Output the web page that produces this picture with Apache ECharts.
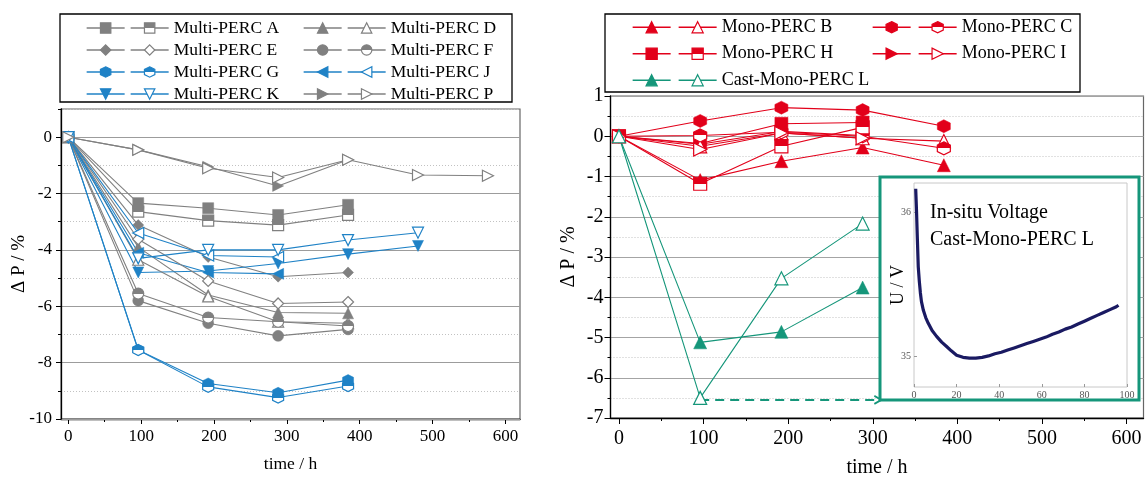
<!DOCTYPE html>
<html><head><meta charset="utf-8">
<script src="https://cdn.jsdelivr.net/npm/echarts@6/dist/echarts.min.js"></script>
<style>html,body{margin:0;padding:0;background:#fff}#c{width:1145px;height:480px}</style>
</head><body><div id="c"></div>
<script>
// ---------- data ----------
const times = [0, 96, 192, 288, 384, 480, 576];
const xTickValues = [0, 100, 200, 300, 400, 500, 600];
const xMinorValues = [50, 150, 250, 350, 450, 550];
const leftYMajor = [-10, -8, -6, -4, -2, 0];

// Multi-PERC (left panel): filled (_f) and open (_o) modules
const multiA_f = [0, -2.34, -2.52, -2.76, -2.40];
const multiA_o = [0, -2.64, -2.96, -3.12, -2.76];
const multiD_f = [0, -3.9, -5.6, -6.22, -6.25];
const multiD_o = [0, -4.35, -5.65, -6.55, -6.6];
const multiE_f = [0, -3.12, -4.25, -4.95, -4.8];
const multiE_o = [0, -3.62, -5.1, -5.9, -5.85];
const multiF_f = [0, -5.8, -6.6, -7.05, -6.82];
const multiF_o = [0, -5.55, -6.4, -6.55, -6.7];
const multiG_f = [0, -7.55, -8.74, -9.07, -8.62];
const multiG_o = [0, -7.55, -8.86, -9.24, -8.83];
const multiJ_f = [0, -4.1, -4.8, -4.85];
const multiJ_o = [0, -3.4, -4.2, -4.25];
const multiK_f = [0, -4.8, -4.75, -4.48, -4.15, -3.86];
const multiK_o = [0, -4.3, -4.0, -4.0, -3.65, -3.39];
const multiP_f = [0, -0.45, -1.05, -1.73, -0.8];
const multiP_o = [0, -0.45, -1.1, -1.43, -0.8, -1.34, -1.37];

// Mono-PERC (right panel)
const monoB_f = [0, -1.09, -0.62, -0.28, -0.72];
const monoB_o = [0, -0.25, 0.08, -0.05, -0.12];
const monoC_f = [0, 0.38, 0.71, 0.65, 0.25];
const monoC_o = [0, 0.02, 0.1, 0.0, -0.3];
const monoH_f = [0, -0.18, 0.31, 0.34];
const monoH_o = [0, -1.18, -0.25, 0.22];
const monoI_f = [0, -0.2, 0.12, 0.02];
const monoI_o = [0, -0.33, 0.08, -0.05];
const castL_f = [0, -5.12, -4.86, -3.76];
const castL_o = [0, -6.5, -3.53, -2.17];

// dashed arrow to inset
const arrowT = [96, 306];
const arrowV = [-6.55, -6.55];

// inset: in-situ voltage
const insetTime = [0.8, 1.0, 1.2, 1.5, 2.0, 2.5, 3.0, 3.5, 4.4, 5.5, 6.7, 8.5, 10.6, 13, 15.3, 17.5, 20, 23, 26, 29, 32, 35, 38, 41, 44, 47, 50, 53, 56, 59, 62, 65, 68, 71, 74, 77, 80, 83, 86, 89, 92, 95, 96];
const insetU = [36.16, 36.08, 36.0, 35.85, 35.62, 35.52, 35.44, 35.38, 35.32, 35.27, 35.23, 35.18, 35.14, 35.10, 35.07, 35.04, 35.01, 34.995, 34.99, 34.99, 34.995, 35.005, 35.02, 35.03, 35.045, 35.06, 35.075, 35.09, 35.105, 35.12, 35.135, 35.155, 35.17, 35.19, 35.205, 35.225, 35.245, 35.265, 35.285, 35.305, 35.325, 35.345, 35.355];
const insetXTicks = [0, 20, 40, 60, 80, 100];
const insetYTicks = [35, 36];

// ---------- style ----------
const FONT = 'Liberation Serif';
const GRAY = '#808080', BLUE = '#1f82c6', RED = '#e2001a', GREEN = '#15967a', NAVY = '#1a1a62';
const SYM = {
  rect: 'rect', circle: 'circle', diamond: 'diamond', tri: 'triangle',
  hex: 'path://M5,0 L9.33,2.5 L9.33,7.5 L5,10 L0.67,7.5 L0.67,2.5 Z',
  left: 'path://M0,5 L10,0 L10,10 Z',
  down: 'path://M0,0 L10,0 L5,10 Z',
  right: 'path://M0,0 L10,5 L0,10 Z'
};
const HALF = ['rect', 'circle', 'hex'];
function half(c) {
  return {type: 'linear', x: 0, y: 0, x2: 0, y2: 1, colorStops: [
    {offset: 0, color: c}, {offset: 0.5, color: c}, {offset: 0.5, color: '#fff'}, {offset: 1, color: '#fff'}]};
}
function mk(name, vals, shape, color, open, xi, yi, size) {
  const fill = open ? (HALF.includes(shape) ? half(color) : '#fff') : color;
  return {
    name: open ? name + '|o' : name, type: 'line', xAxisIndex: xi, yAxisIndex: yi,
    data: vals.map((v, i) => [times[i], v]),
    symbol: SYM[shape], symbolSize: size, showAllSymbol: true,
    lineStyle: {color: color, width: 1.1},
    itemStyle: {color: fill, borderColor: color, borderWidth: open ? 1.2 : 0.5},
    emphasis: {disabled: true}, z: open ? 4 : 3
  };
}
const L = (n, v, s, c, o) => mk(n, v, s, c, o, 0, 0, 11);
const R = (n, v, s, c, o) => mk(n, v, s, c, o, 2, 2, 13);

const series = [
  L('Multi-PERC A', multiA_f, 'rect', GRAY, false), L('Multi-PERC A', multiA_o, 'rect', GRAY, true),
  L('Multi-PERC D', multiD_f, 'tri', GRAY, false), L('Multi-PERC D', multiD_o, 'tri', GRAY, true),
  L('Multi-PERC E', multiE_f, 'diamond', GRAY, false), L('Multi-PERC E', multiE_o, 'diamond', GRAY, true),
  L('Multi-PERC F', multiF_f, 'circle', GRAY, false), L('Multi-PERC F', multiF_o, 'circle', GRAY, true),
  L('Multi-PERC G', multiG_f, 'hex', BLUE, false), L('Multi-PERC G', multiG_o, 'hex', BLUE, true),
  L('Multi-PERC J', multiJ_f, 'left', BLUE, false), L('Multi-PERC J', multiJ_o, 'left', BLUE, true),
  L('Multi-PERC K', multiK_f, 'down', BLUE, false), L('Multi-PERC K', multiK_o, 'down', BLUE, true),
  L('Multi-PERC P', multiP_f, 'right', GRAY, false), L('Multi-PERC P', multiP_o, 'right', GRAY, true),
  R('Mono-PERC B', monoB_f, 'tri', RED, false), R('Mono-PERC B', monoB_o, 'tri', RED, true),
  R('Mono-PERC C', monoC_f, 'hex', RED, false), R('Mono-PERC C', monoC_o, 'hex', RED, true),
  R('Mono-PERC H', monoH_f, 'rect', RED, false), R('Mono-PERC H', monoH_o, 'rect', RED, true),
  R('Mono-PERC I', monoI_f, 'right', RED, false), R('Mono-PERC I', monoI_o, 'right', RED, true),
  R('Cast-Mono-PERC L', castL_f, 'tri', GREEN, false), R('Cast-Mono-PERC L', castL_o, 'tri', GREEN, true),
  {
    name: 'arrow', type: 'line', xAxisIndex: 2, yAxisIndex: 2, z: 3,
    data: arrowT.map((t, i) => i === arrowT.length - 1
      ? {value: [t, arrowV[i]], symbol: 'path://M0,0 L10,5 L0,10', symbolSize: [7, 8], itemStyle: {color: 'rgba(0,0,0,0)', borderColor: GREEN, borderWidth: 1.8}}
      : {value: [t, arrowV[i]], symbol: 'none'}),
    lineStyle: {color: GREEN, width: 2, type: [9, 6]}, emphasis: {disabled: true}
  },
  {
    name: 'inset', type: 'line', xAxisIndex: 4, yAxisIndex: 3, z: 56, showSymbol: false,
    data: insetTime.map((t, i) => [t, insetU[i]]),
    lineStyle: {color: NAVY, width: 3.2}, emphasis: {disabled: true}
  }
];

const txt = (size) => ({fontFamily: FONT, fontSize: size, color: '#000'});
function legend(left, top, names, open, lh, ih, fs) {
  return {
    left: left, top: top, orient: 'vertical', padding: 0, itemGap: 0,
    itemWidth: 38, itemHeight: ih, selectedMode: false,
    data: names.map(n => open ? n + '|o' : n),
    formatter: open ? (n => n.replace('|o', '')) : (() => '\u00a0'),
    textStyle: Object.assign(txt(fs), {lineHeight: lh}),
    itemStyle: {borderWidth: 1.2}, lineStyle: {width: 1.3}
  };
}
const lc1 = ['Multi-PERC A', 'Multi-PERC E', 'Multi-PERC G', 'Multi-PERC K'];
const lc2 = ['Multi-PERC D', 'Multi-PERC F', 'Multi-PERC J', 'Multi-PERC P'];
const rc1 = ['Mono-PERC B', 'Mono-PERC H', 'Cast-Mono-PERC L'];
const rc2 = ['Mono-PERC C', 'Mono-PERC I'];

const axLine = {show: true, onZero: false, lineStyle: {color: '#000', width: 1.3}};
const tick = (len, extra) => Object.assign({show: true, length: len, lineStyle: {color: '#000', width: 1}}, extra || {});

const option = {
  animation: false,
  backgroundColor: '#fff',
  grid: [
    {left: 61, top: 109, width: 459, height: 310, show: true, borderColor: '#666', borderWidth: 1.2, backgroundColor: 'rgba(0,0,0,0)', outerBoundsMode: 'none', containLabel: false},
    {left: 610.5, top: 96, width: 533, height: 322, show: true, borderColor: '#666', borderWidth: 1.2, backgroundColor: 'rgba(0,0,0,0)', outerBoundsMode: 'none', containLabel: false},
    {left: 914, top: 183, width: 213, height: 204, outerBoundsMode: 'none', containLabel: false}
  ],
  xAxis: [
    {gridIndex: 0, type: 'value', min: -10, max: 620, position: 'bottom', axisLine: axLine,
     axisTick: tick(5, {customValues: xTickValues}),
     axisLabel: Object.assign(txt(17), {customValues: xTickValues, margin: 9}),
     splitLine: {show: false},
     name: 'time / h', nameLocation: 'middle', nameGap: 36, nameMoveOverlap: false, nameTextStyle: txt(17.5)},
    {gridIndex: 0, type: 'value', min: -10, max: 620, position: 'bottom', axisLine: {show: false, onZero: false},
     axisTick: tick(3, {customValues: xMinorValues}), axisLabel: {show: false}, splitLine: {show: false}},
    {gridIndex: 1, type: 'value', min: -10, max: 620, position: 'bottom', axisLine: axLine,
     axisTick: tick(6, {customValues: xTickValues}),
     axisLabel: Object.assign(txt(20), {customValues: xTickValues, margin: 11}),
     splitLine: {show: false},
     name: 'time / h', nameLocation: 'middle', nameGap: 40, nameMoveOverlap: false, nameTextStyle: txt(20)},
    {gridIndex: 1, type: 'value', min: -10, max: 620, position: 'bottom', axisLine: {show: false, onZero: false},
     axisTick: tick(3, {customValues: xMinorValues}), axisLabel: {show: false}, splitLine: {show: false}},
    {gridIndex: 2, type: 'value', min: 0, max: 100, position: 'bottom', z: 55,
     axisLine: {show: false, onZero: false},
     axisTick: {show: true, customValues: insetXTicks, length: 3, inside: true, lineStyle: {color: '#999'}},
     axisLabel: {customValues: insetXTicks, fontFamily: FONT, fontSize: 10, color: '#555', margin: 3},
     splitLine: {show: false}}
  ],
  yAxis: [
    {gridIndex: 0, type: 'value', min: -10, max: 1, position: 'left', z: 2, axisLine: axLine,
     axisTick: tick(5, {customValues: leftYMajor}),
     axisLabel: Object.assign(txt(17), {customValues: leftYMajor, margin: 9}),
     splitLine: {show: true, lineStyle: {color: '#9c9c9c', width: 1.2}},
     name: 'Δ P / %', nameLocation: 'middle', nameGap: 32, nameRotate: 90, nameMoveOverlap: false, nameTextStyle: txt(19)},
    {gridIndex: 0, type: 'value', min: -10, max: 1, interval: 1, position: 'left', z: 1,
     axisLine: {show: false, onZero: false}, axisTick: tick(3), axisLabel: {show: false},
     splitLine: {show: true, lineStyle: {color: '#c2c2c2', width: 1, type: [1, 2]}}},
    {gridIndex: 1, type: 'value', min: -7, max: 1, interval: 1, position: 'left', axisLine: axLine,
     axisTick: tick(6), minorTick: {show: true, splitNumber: 2, length: 3, lineStyle: {color: '#000'}},
     axisLabel: Object.assign(txt(20), {margin: 7}),
     splitLine: {show: true, lineStyle: {color: '#a4a4a4', width: 1.2}},
     minorSplitLine: {show: true, lineStyle: {color: '#c2c2c2', width: 1, type: [1, 2]}},
     name: 'Δ P / %', nameLocation: 'middle', nameGap: 32, nameRotate: 90, nameMoveOverlap: false, nameTextStyle: txt(20)},
    {gridIndex: 2, type: 'value', min: 34.79, max: 36.2, position: 'left', z: 55,
     axisLine: {show: false, onZero: false},
     axisTick: {show: true, customValues: insetYTicks, length: 3, inside: true, lineStyle: {color: '#999'}},
     axisLabel: {customValues: insetYTicks, fontFamily: FONT, fontSize: 10, color: '#555', margin: 3},
     splitLine: {show: false},
     name: 'U / V', nameLocation: 'middle', nameGap: 7, nameRotate: 90, nameMoveOverlap: false,
     nameTextStyle: {fontFamily: FONT, fontSize: 18, color: '#000'}}
  ],
  legend: [
    legend(86, 17, lc1, false, 22, 13, 17.5), legend(130, 17, lc1, true, 22, 13, 17.5),
    legend(303, 17, lc2, false, 22, 13, 17.5), legend(347, 17, lc2, true, 22, 13, 17.5),
    legend(632, 14, rc1, false, 26.5, 14, 18), legend(678, 14, rc1, true, 26.5, 14, 18),
    legend(872, 14, rc2, false, 26.5, 14, 18), legend(918, 14, rc2, true, 26.5, 14, 18)
  ],
  graphic: [
    {type: 'rect', z: 10, shape: {x: 60, y: 14, width: 452, height: 88}, style: {fill: null, stroke: '#000', lineWidth: 1.3}},
    {type: 'rect', z: 10, shape: {x: 605, y: 14, width: 475, height: 78}, style: {fill: null, stroke: '#000', lineWidth: 1.3}},
    {type: 'rect', z: 50, shape: {x: 880, y: 177, width: 259, height: 223}, style: {fill: '#fff', stroke: GREEN, lineWidth: 3}},
    {type: 'rect', z: 52, shape: {x: 914, y: 183, width: 213, height: 204}, style: {fill: null, stroke: '#c8c8c8', lineWidth: 1}},
    {type: 'text', z: 60, x: 930, y: 213, style: {text: 'In-situ Voltage', font: '20px "Liberation Serif"', fill: '#000', verticalAlign: 'middle'}},
    {type: 'text', z: 60, x: 930, y: 240, style: {text: 'Cast-Mono-PERC L', font: '20px "Liberation Serif"', fill: '#000', verticalAlign: 'middle'}}
  ],
  series: series
};
const chart = echarts.init(document.getElementById('c'), null, {renderer: 'canvas'});
chart.setOption(option);
</script></body></html>
